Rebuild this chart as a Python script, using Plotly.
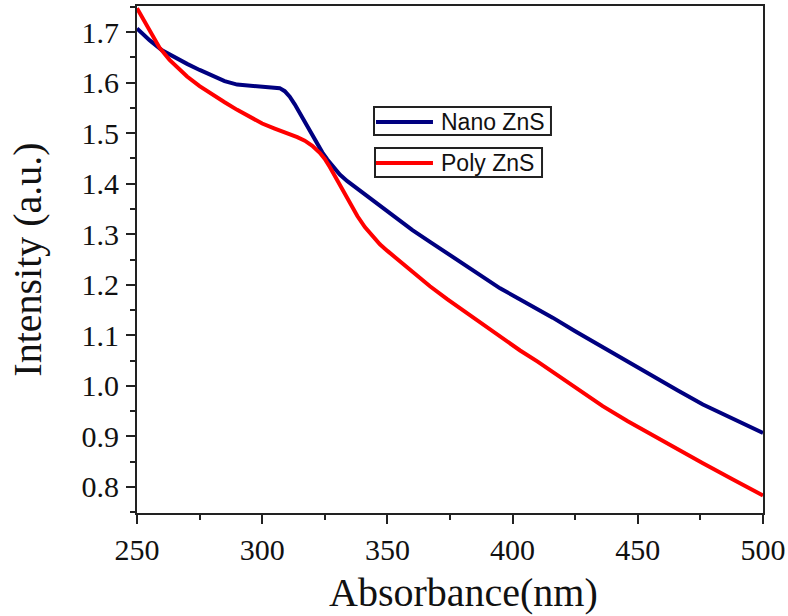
import plotly.graph_objects as go

nano_x = [250, 255, 260, 265, 270, 275, 280, 285, 290, 295, 300, 304, 307, 309, 311, 313,
          315, 318, 320, 322, 324, 326, 328, 331, 334, 338, 343, 347, 350, 355, 360, 367,
          374, 380, 387, 395, 403, 410, 416, 425, 436, 445, 456, 466, 476, 488, 500]
nano_y = [1.707, 1.684, 1.664, 1.650, 1.637, 1.625, 1.613, 1.603, 1.596, 1.594, 1.593, 1.592,
          1.589, 1.583, 1.572, 1.557, 1.540, 1.512, 1.494, 1.477, 1.462, 1.448, 1.436, 1.418,
          1.405, 1.390, 1.372, 1.357, 1.347, 1.327, 1.308, 1.285, 1.262, 1.242, 1.218, 1.193,
          1.171, 1.152, 1.135, 1.108, 1.076, 1.050, 1.019, 0.991, 0.963, 0.935, 0.907]

poly_x = [250, 253, 256, 259, 263, 267, 270, 275, 280, 285, 290, 295, 300, 305, 310, 314,
          317, 320, 323, 325, 327, 329, 331, 333, 335, 338, 341, 344, 347, 350, 355, 360,
          367, 374, 382, 390, 397, 403, 410, 416, 426, 436, 446, 456, 466, 476, 488, 500]
poly_y = [1.747, 1.720, 1.695, 1.669, 1.645, 1.625, 1.612, 1.593, 1.576, 1.561, 1.546, 1.532,
          1.519, 1.509, 1.500, 1.492, 1.485, 1.475, 1.461, 1.449, 1.433, 1.415, 1.398, 1.380,
          1.362, 1.336, 1.314, 1.296, 1.280, 1.267, 1.246, 1.225, 1.197, 1.171, 1.143, 1.116,
          1.092, 1.070, 1.048, 1.028, 0.993, 0.960, 0.930, 0.902, 0.874, 0.847, 0.815, 0.783]

x_ticks = [250, 300, 350, 400, 450, 500]
y_ticks = [0.8, 0.9, 1.0, 1.1, 1.2, 1.3, 1.4, 1.5, 1.6, 1.7]
y_ticklabels = ["0.8", "0.9", "1.0", "1.1", "1.2", "1.3", "1.4", "1.5", "1.6", "1.7"]

series_names = ["Nano ZnS", "Poly ZnS"]
series_colors = ["#000080", "#FF0000"]
x_title = "Absorbance(nm)"
y_title = "Intensity (a.u.)"

fig = go.Figure()
fig.add_trace(go.Scatter(x=nano_x, y=nano_y, mode="lines", name=series_names[0],
                         line=dict(color=series_colors[0], width=4), showlegend=False))
fig.add_trace(go.Scatter(x=poly_x, y=poly_y, mode="lines", name=series_names[1],
                         line=dict(color=series_colors[1], width=4), showlegend=False))

serif = "Liberation Serif, Times New Roman, serif"
axis_common = dict(showline=True, linecolor="#222", linewidth=2, mirror=True,
                   showgrid=False, zeroline=False, ticks="outside", ticklen=9,
                   tickwidth=2, tickcolor="#222", automargin=False,
                   tickfont=dict(family=serif, size=30, color="#111"))

fig.update_xaxes(range=[250, 500], tickvals=x_ticks,
                 minor=dict(ticks="outside", ticklen=5, tickwidth=2, tickcolor="#222", dtick=25, tick0=250),
                 **axis_common)
fig.update_yaxes(range=[0.7485, 1.7515], tickvals=y_ticks, ticktext=y_ticklabels, ticklabelstandoff=1,
                 minor=dict(ticks="outside", ticklen=5, tickwidth=2, tickcolor="#222", dtick=0.05, tick0=0.8),
                 title=dict(text=y_title, font=dict(family=serif, size=40, color="#111"), standoff=28),
                 **axis_common)

# Legend drawn as two separate boxed entries (paper coordinates)
legend_boxes = [(0.3786, 0.7456, 0.6613, 0.8008), (0.3802, 0.6627, 0.6470, 0.7199)]
legend_line_y = [0.7712, 0.6903]
shapes = []
annotations = []
for i, name in enumerate(series_names):
    x0, y0, x1, y1 = legend_boxes[i]
    shapes.append(dict(type="rect", xref="paper", yref="paper", x0=x0, y0=y0, x1=x1, y1=y1,
                       line=dict(color="#222", width=2), fillcolor="white", layer="above"))
    shapes.append(dict(type="line", xref="paper", yref="paper", x0=0.3818, x1=0.4728,
                       y0=legend_line_y[i], y1=legend_line_y[i],
                       line=dict(color=series_colors[i], width=4), layer="above"))
    annotations.append(dict(text=name, xref="paper", yref="paper", x=0.4824, y=legend_line_y[i],
                            xanchor="left", yanchor="middle", showarrow=False,
                            font=dict(family="Liberation Sans, Arial, sans-serif", size=23, color="#111")))

# x-axis title (slightly right of centre, as in the original)
annotations.append(dict(text=x_title, xref="paper", yref="paper", x=0.521, y=-0.156,
                        xanchor="center", yanchor="middle", showarrow=False,
                        font=dict(family=serif, size=40, color="#111")))

fig.update_layout(
    width=788, height=616,
    margin=dict(l=137, r=25, t=6, b=103),
    plot_bgcolor="white", paper_bgcolor="white",
    shapes=shapes, annotations=annotations,
)

fig.write_html("out.html")
